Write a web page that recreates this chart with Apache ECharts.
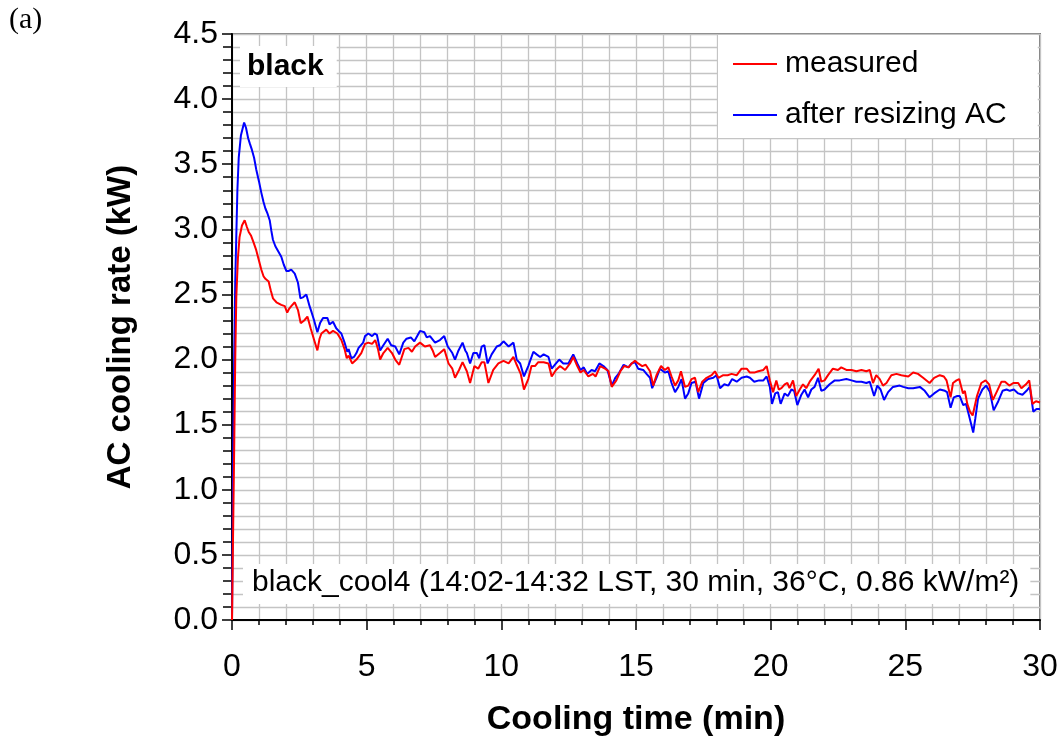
<!DOCTYPE html>
<html>
<head>
<meta charset="utf-8">
<script src="https://cdn.jsdelivr.net/npm/echarts@6/dist/echarts.min.js"></script>
<style>
html,body{margin:0;padding:0;background:#fff;}
#chart{width:1063px;height:746px;}
</style>
</head>
<body>
<div id="chart"></div>
<script>
const seriesNames = ['measured', 'after resizing AC'];
const xTicks = [0, 5, 10, 15, 20, 25, 30];
const yTicks = [0, 0.5, 1, 1.5, 2, 2.5, 3, 3.5, 4, 4.5];
const panelLabel = '(a)';
const caseLabel = 'black';
const caseInfo = 'black_cool4 (14:02-14:32 LST, 30 min, 36°C, 0.86 kW/m²)';
const xTitle = 'Cooling time (min)';
const yTitle = 'AC cooling rate (kW)';

// measured (red): [time min, kW]
const measured = [
[0,0.0],[0.03,0.5],[0.08,1.3],[0.12,2.0],[0.16,2.48],[0.22,2.78],[0.28,2.94],[0.37,3.03],[0.47,3.07],[0.55,3.02],[0.62,2.98],[0.71,2.95],[0.8,2.90],[0.9,2.84],[1.0,2.76],[1.09,2.69],[1.17,2.64],[1.24,2.62],[1.36,2.60],[1.44,2.53],[1.52,2.47],[1.65,2.44],[1.83,2.42],[1.96,2.41],[2.05,2.36],[2.12,2.39],[2.2,2.41],[2.33,2.44],[2.45,2.38],[2.55,2.28],[2.68,2.30],[2.80,2.33],[2.92,2.24],[3.05,2.15],[3.17,2.07],[3.25,2.16],[3.32,2.20],[3.50,2.23],[3.62,2.20],[3.75,2.22],[3.91,2.20],[4.06,2.15],[4.18,2.08],[4.26,2.01],[4.33,2.03],[4.46,1.97],[4.62,2.00],[4.80,2.05],[4.94,2.12],[5.06,2.13],[5.2,2.12],[5.32,2.15],[5.42,2.08],[5.50,2.00],[5.62,2.05],[5.78,2.09],[5.94,2.05],[6.06,2.00],[6.21,1.96],[6.40,2.08],[6.55,2.09],[6.68,2.06],[6.8,2.10],[6.98,2.13],[7.16,2.10],[7.35,2.11],[7.45,2.07],[7.54,2.02],[7.72,2.05],[7.88,2.08],[8.04,1.97],[8.18,1.93],[8.28,1.86],[8.43,1.92],[8.56,1.98],[8.72,1.91],[8.84,1.82],[9.0,1.95],[9.14,1.93],[9.27,1.98],[9.37,1.98],[9.52,1.82],[9.70,1.92],[9.89,1.97],[10.08,1.99],[10.27,1.97],[10.45,2.02],[10.57,1.96],[10.72,1.89],[10.84,1.77],[11.0,1.85],[11.12,1.95],[11.25,1.95],[11.37,1.98],[11.57,1.98],[11.75,1.97],[11.87,1.87],[12.03,1.92],[12.18,1.95],[12.37,1.92],[12.55,1.97],[12.67,2.02],[12.82,1.95],[12.94,1.90],[13.06,1.92],[13.23,1.87],[13.4,1.89],[13.5,1.87],[13.67,1.95],[13.85,1.93],[13.98,1.91],[14.1,1.79],[14.27,1.84],[14.42,1.91],[14.56,1.95],[14.72,1.94],[14.84,1.97],[14.96,1.99],[15.08,1.97],[15.23,1.95],[15.36,1.96],[15.52,1.91],[15.64,1.80],[15.76,1.88],[15.93,1.95],[16.07,1.92],[16.20,1.94],[16.32,1.87],[16.45,1.80],[16.57,1.84],[16.67,1.91],[16.82,1.79],[16.94,1.80],[17.06,1.85],[17.19,1.86],[17.31,1.75],[17.46,1.83],[17.62,1.86],[17.81,1.88],[17.93,1.91],[18.06,1.86],[18.24,1.88],[18.40,1.88],[18.55,1.89],[18.74,1.88],[18.92,1.93],[19.11,1.93],[19.23,1.90],[19.39,1.90],[19.54,1.91],[19.73,1.92],[19.85,1.95],[19.97,1.84],[20.06,1.77],[20.09,1.75],[20.21,1.84],[20.30,1.77],[20.40,1.78],[20.52,1.81],[20.62,1.82],[20.70,1.78],[20.83,1.84],[20.95,1.72],[21.08,1.77],[21.20,1.81],[21.32,1.78],[21.45,1.83],[21.63,1.88],[21.78,1.93],[21.88,1.83],[22.00,1.84],[22.13,1.88],[22.31,1.93],[22.50,1.92],[22.62,1.94],[22.81,1.92],[23.00,1.92],[23.18,1.91],[23.37,1.92],[23.55,1.91],[23.68,1.92],[23.80,1.82],[23.92,1.88],[24.05,1.85],[24.17,1.80],[24.30,1.82],[24.48,1.88],[24.67,1.89],[24.85,1.88],[24.92,1.88],[25.11,1.87],[25.29,1.90],[25.47,1.89],[25.66,1.86],[25.90,1.82],[26.07,1.86],[26.28,1.88],[26.43,1.87],[26.53,1.84],[26.68,1.71],[26.77,1.82],[26.90,1.84],[27.0,1.85],[27.14,1.74],[27.21,1.76],[27.30,1.66],[27.40,1.60],[27.5,1.57],[27.66,1.72],[27.82,1.82],[27.98,1.84],[28.11,1.81],[28.25,1.69],[28.41,1.76],[28.57,1.83],[28.70,1.83],[28.86,1.80],[29.01,1.82],[29.19,1.82],[29.31,1.78],[29.48,1.81],[29.60,1.84],[29.72,1.66],[29.85,1.68],[30,1.67]
];

// after resizing AC (blue): [time min, kW]
const resized = [
[0,0.0],[0.02,0.6],[0.05,1.4],[0.08,2.0],[0.12,2.6],[0.16,2.95],[0.2,3.3],[0.25,3.55],[0.33,3.72],[0.45,3.82],[0.52,3.78],[0.6,3.70],[0.66,3.66],[0.74,3.61],[0.82,3.55],[0.9,3.46],[1.0,3.37],[1.09,3.28],[1.17,3.21],[1.24,3.16],[1.32,3.12],[1.40,3.07],[1.46,2.99],[1.52,2.92],[1.61,2.87],[1.72,2.83],[1.83,2.79],[1.92,2.73],[2.02,2.68],[2.1,2.68],[2.2,2.69],[2.33,2.66],[2.45,2.59],[2.54,2.47],[2.65,2.48],[2.76,2.50],[2.88,2.41],[2.96,2.36],[3.05,2.30],[3.17,2.21],[3.27,2.28],[3.38,2.32],[3.54,2.32],[3.62,2.27],[3.75,2.29],[3.87,2.24],[3.96,2.22],[4.06,2.20],[4.18,2.13],[4.28,2.06],[4.33,2.08],[4.43,2.01],[4.53,2.02],[4.62,2.05],[4.70,2.09],[4.87,2.13],[4.94,2.18],[5.06,2.20],[5.2,2.18],[5.3,2.20],[5.38,2.19],[5.50,2.07],[5.62,2.11],[5.78,2.16],[5.91,2.11],[6.06,2.10],[6.21,2.04],[6.36,2.13],[6.48,2.16],[6.64,2.17],[6.77,2.14],[6.98,2.22],[7.14,2.21],[7.23,2.17],[7.35,2.18],[7.54,2.13],[7.72,2.15],[7.88,2.18],[8.01,2.10],[8.18,2.05],[8.28,2.00],[8.41,2.07],[8.56,2.13],[8.66,2.07],[8.72,2.05],[8.84,1.97],[8.96,2.05],[9.09,2.05],[9.18,2.01],[9.27,2.10],[9.37,2.11],[9.49,1.97],[9.64,2.04],[9.83,2.10],[9.95,2.11],[10.08,2.14],[10.27,2.10],[10.45,2.13],[10.57,2.00],[10.70,1.97],[10.84,1.87],[11.0,1.95],[11.19,2.06],[11.31,2.04],[11.44,2.02],[11.57,2.04],[11.75,2.02],[11.87,1.93],[12.03,1.97],[12.15,2.00],[12.30,1.97],[12.49,1.97],[12.67,2.04],[12.82,1.97],[12.94,1.92],[13.06,1.94],[13.19,1.89],[13.35,1.92],[13.48,1.91],[13.64,1.97],[13.79,1.95],[13.94,1.92],[14.10,1.80],[14.23,1.86],[14.35,1.89],[14.54,1.96],[14.72,1.94],[14.84,1.97],[14.96,1.98],[15.08,1.93],[15.27,1.92],[15.39,1.89],[15.52,1.86],[15.60,1.78],[15.76,1.86],[15.89,1.93],[16.07,1.90],[16.20,1.91],[16.32,1.82],[16.45,1.75],[16.57,1.79],[16.69,1.85],[16.82,1.70],[16.94,1.74],[17.06,1.82],[17.21,1.83],[17.34,1.70],[17.50,1.82],[17.68,1.85],[17.87,1.86],[17.99,1.88],[18.12,1.78],[18.28,1.81],[18.43,1.80],[18.57,1.85],[18.74,1.83],[18.92,1.86],[19.11,1.87],[19.23,1.86],[19.39,1.83],[19.57,1.84],[19.73,1.84],[19.85,1.87],[19.97,1.79],[20.05,1.66],[20.17,1.74],[20.27,1.75],[20.37,1.66],[20.52,1.74],[20.64,1.72],[20.77,1.77],[20.87,1.76],[20.99,1.65],[21.14,1.73],[21.26,1.77],[21.39,1.71],[21.51,1.77],[21.63,1.79],[21.76,1.86],[21.88,1.76],[22.00,1.77],[22.19,1.81],[22.38,1.84],[22.56,1.84],[22.81,1.85],[23.00,1.84],[23.18,1.83],[23.37,1.83],[23.55,1.82],[23.68,1.83],[23.84,1.72],[23.96,1.80],[24.08,1.77],[24.21,1.69],[24.36,1.75],[24.54,1.79],[24.79,1.80],[24.92,1.79],[25.11,1.78],[25.29,1.78],[25.54,1.79],[25.72,1.76],[25.90,1.71],[26.07,1.74],[26.28,1.77],[26.47,1.76],[26.55,1.75],[26.68,1.63],[26.80,1.71],[26.93,1.72],[27.02,1.72],[27.15,1.65],[27.25,1.66],[27.34,1.59],[27.45,1.50],[27.52,1.44],[27.6,1.55],[27.70,1.70],[27.86,1.77],[28.0,1.80],[28.14,1.75],[28.28,1.61],[28.45,1.68],[28.61,1.76],[28.76,1.77],[28.88,1.76],[29.03,1.77],[29.19,1.74],[29.35,1.73],[29.50,1.76],[29.62,1.79],[29.75,1.60],[29.87,1.62],[30,1.62]
];

const FONT = 'Liberation Sans, Arial, sans-serif';
const chart = echarts.init(document.getElementById('chart'), null, {renderer: 'canvas'});

const option = {
  animation: false,
  backgroundColor: '#fff',
  title: [
    {text: panelLabel, left: 9, top: 5, padding: 0,
     textStyle: {fontFamily: 'Liberation Serif, DejaVu Serif, serif', fontSize: 30, fontWeight: 'normal', color: '#000'}},
    {text: caseLabel, left: 240, top: 46, padding: [6, 13, 5, 7], backgroundColor: '#fff',
     textStyle: {fontFamily: FONT, fontSize: 30, fontWeight: 'bold', color: '#000'}},
    {text: caseInfo, left: 243, top: 564, padding: [4, 11, 6, 9], backgroundColor: '#fff',
     textStyle: {fontFamily: FONT, fontSize: 30, fontWeight: 'normal', color: '#000'}}
  ],
  legend: {
    orient: 'vertical', left: 718, top: 35,
    padding: [14, 31, 8, 14], itemGap: 21, itemWidth: 44, itemHeight: 14,
    backgroundColor: '#fff',
    itemStyle: {opacity: 0},
    textStyle: {fontFamily: FONT, fontSize: 30, color: '#000', padding: [0, 0, 0, 3]},
    data: seriesNames
  },
  grid: {left: 232, right: 23, top: 34, bottom: 126, show: true,
         borderColor: '#7f7f7f', borderWidth: 2, backgroundColor: 'transparent'},
  xAxis: {
    type: 'value', min: xTicks[0], max: xTicks[xTicks.length - 1], interval: 5,
    name: xTitle, nameLocation: 'middle', nameGap: 83,
    nameTextStyle: {fontFamily: FONT, fontSize: 34, fontWeight: 'bold', color: '#000'},
    axisLine: {show: true, onZero: false, lineStyle: {color: '#000', width: 2}},
    axisTick: {show: true, inside: false, length: 10, lineStyle: {color: '#000', width: 1.5}},
    minorTick: {show: true, splitNumber: 5, length: 5, lineStyle: {color: '#000', width: 1.5}},
    axisLabel: {fontFamily: FONT, fontSize: 32, color: '#000', margin: 31},
    splitLine: {show: true, lineStyle: {color: '#c4c4c4', width: 1.3}},
    minorSplitLine: {show: true, lineStyle: {color: '#c4c4c4', width: 1.3}}
  },
  yAxis: {
    type: 'value', min: yTicks[0], max: yTicks[yTicks.length - 1], interval: 0.5,
    name: yTitle, nameLocation: 'middle', nameGap: 95,
    nameTextStyle: {fontFamily: FONT, fontSize: 33, fontWeight: 'bold', color: '#000'},
    axisLine: {show: true, onZero: false, lineStyle: {color: '#000', width: 2}},
    axisTick: {show: true, inside: false, length: 10, lineStyle: {color: '#000', width: 1.5}},
    minorTick: {show: true, splitNumber: 5, length: 9, lineStyle: {color: '#000', width: 1.5}},
    axisLabel: {fontFamily: FONT, fontSize: 32, color: '#000', margin: 14,
                formatter: v => v.toFixed(1)},
    splitLine: {show: true, lineStyle: {color: '#c4c4c4', width: 1.3}},
    minorSplitLine: {show: true, lineStyle: {color: '#c4c4c4', width: 1.3}}
  },
  series: [
    {name: seriesNames[0], type: 'line', data: measured, symbol: 'none', z: 4,
     lineStyle: {color: '#ff0000', width: 2}, itemStyle: {color: '#ff0000'}},
    {name: seriesNames[1], type: 'line', data: resized, symbol: 'none', z: 3,
     lineStyle: {color: '#0000ff', width: 2}, itemStyle: {color: '#0000ff'}}
  ]
};
chart.setOption(option);
</script>
</body>
</html>
